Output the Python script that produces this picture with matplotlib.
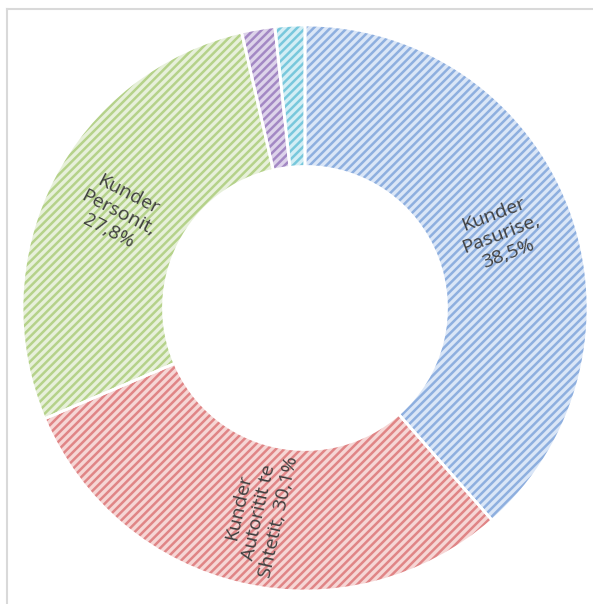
import numpy as np
import matplotlib.pyplot as plt
from matplotlib.lines import Line2D

# dados do gráfico
categorias = ["Kunder\nPasurise,\n38,5%", "Kunder\nAutoritit te\nShtetit, 30,1%",
              "Kunder\nPersonit,\n27,8%", "", ""]
valores = [38.5, 30.1, 27.8, 1.9, 1.7]
cores_fundo = ["#dae6f7", "#f6d6d5", "#e7f0da", "#ddd3ea", "#d3eef5"]
cores_hachura = ["#8eafdf", "#e08586", "#b5d28a", "#a388c4", "#78c8dc"]

plt.rcParams["hatch.linewidth"] = 1.8

fig = plt.figure(figsize=(5.93, 6.04), dpi=100)
ax = fig.add_axes([0, 0, 1, 1])

# centro e raio em pixels
cx, cy, raio = 305, 308, 283
W, H = 593, 604

# primeira passagem: preenchimento com hachura
wedges, _ = ax.pie(valores, startangle=90, counterclock=False, radius=1,
                   wedgeprops=dict(width=0.5, linewidth=0))
for w, fc, hc in zip(wedges, cores_fundo, cores_hachura):
    w.set_facecolor(fc)
    w.set_edgecolor(hc)
    w.set_hatch("////")

# segunda passagem: bordas brancas
wedges2, _ = ax.pie(valores, startangle=90, counterclock=False, radius=1,
                    wedgeprops=dict(width=0.5, linewidth=2, edgecolor="white",
                                    facecolor="none"))

# rótulos na direção radial
for w, txt in zip(wedges, categorias):
    if not txt:
        continue
    ang = (w.theta1 + w.theta2) / 2
    r = 0.74
    x = r * np.cos(np.radians(ang))
    y = r * np.sin(np.radians(ang))
    rot = ang
    while rot > 90:
        rot -= 180
    while rot < -90:
        rot += 180
    ax.text(x, y, txt, rotation=rot, rotation_mode="anchor", ha="center",
            va="center", fontsize=14, color="#404040", linespacing=1.2,
            family="Open Sans")

ax.set_aspect("auto")
ax.set_xlim(-cx / raio, (W - cx) / raio)
ax.set_ylim(-(H - cy) / raio, cy / raio)
ax.axis("off")

# moldura cinza parcial
fig.add_artist(Line2D([7 / W, 7 / W], [0, 1 - 9 / H], color="#d9d9d9", lw=1.5))
fig.add_artist(Line2D([7 / W, 1], [1 - 9 / H, 1 - 9 / H], color="#d9d9d9", lw=1.5))

fig.savefig("out.png", dpi=100)
